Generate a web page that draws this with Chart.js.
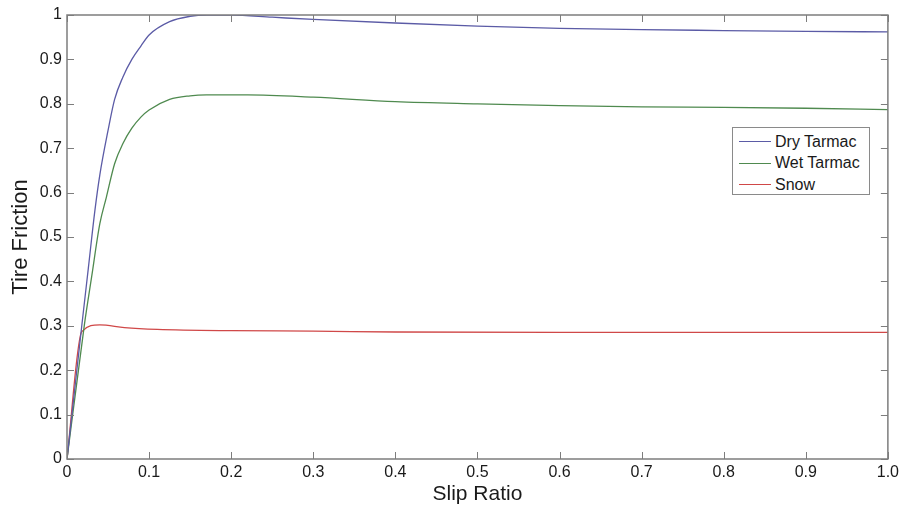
<!DOCTYPE html>
<html>
<head>
<meta charset="utf-8">
<script src="https://cdn.jsdelivr.net/npm/chart.js@4.4.1/dist/chart.umd.min.js"></script>
<style>
    html, body { margin: 0; padding: 0; background: #fff; }
    #wrap { position: relative; width: 903px; height: 507px; }
    #legend {
        position: absolute; left: 732px; top: 127px; width: 138px; height: 68px;
        border: 1px solid #8a8a8a; background: #fff;
        font-family: "Liberation Sans", Arial, sans-serif; font-size: 16px; color: #1a1a1a;
        box-sizing: border-box; padding-top: 3px;
    }
    #legend .row { display: flex; align-items: center; height: 21.5px; }
    #legend .swatch { width: 32px; height: 0; border-top: 1.5px solid; margin: 0 4px 0 6px; }
</style>
</head>
<body>
<div id="wrap">
    <canvas id="chart" width="903" height="507"></canvas>
    <div id="legend"></div>
</div>
<script>
// Значения
const drySlip = [0, 0.018, 0.026, 0.034, 0.04, 0.05, 0.058, 0.068, 0.079, 0.09, 0.1, 0.125, 0.15, 0.17, 0.2, 0.25, 0.3, 0.4, 0.5, 0.6, 0.7, 0.8, 0.9, 1.0];
const dryFriction = [0, 0.3, 0.43, 0.56, 0.64, 0.74, 0.81, 0.86, 0.9, 0.93, 0.955, 0.985, 0.997, 1.0, 1.0, 0.995, 0.99, 0.982, 0.975, 0.97, 0.967, 0.965, 0.963, 0.962];

const wetSlip = [0, 0.021, 0.03, 0.04, 0.048, 0.058, 0.068, 0.079, 0.09, 0.1, 0.125, 0.15, 0.17, 0.22, 0.3, 0.4, 0.5, 0.6, 0.7, 0.8, 0.9, 1.0];
const wetFriction = [0, 0.3, 0.41, 0.53, 0.59, 0.665, 0.71, 0.745, 0.77, 0.786, 0.81, 0.818, 0.82, 0.82, 0.815, 0.805, 0.8, 0.796, 0.793, 0.792, 0.79, 0.787];

const snowSlip = [0, 0.018, 0.04, 0.07, 0.11, 0.2, 0.3, 0.4, 0.6, 0.8, 1.0];
const snowFriction = [0, 0.287, 0.302, 0.296, 0.292, 0.289, 0.288, 0.286, 0.285, 0.285, 0.285];

const seriesNames = ['Dry Tarmac', 'Wet Tarmac', 'Snow'];
const seriesColors = ['#5b5ba6', '#4f8a4f', '#d04848'];

const xTicks = [0, 0.1, 0.2, 0.3, 0.4, 0.5, 0.6, 0.7, 0.8, 0.9, 1.0];
const yTicks = [0, 0.1, 0.2, 0.3, 0.4, 0.5, 0.6, 0.7, 0.8, 0.9, 1];

function toPoints(xs, ys) {
    return xs.map((x, i) => ({ x: x, y: ys[i] }));
}

const textColor = '#1a1a1a';
const fontFamily = '"Liberation Sans", Arial, sans-serif';

// Рамка и внутренние засечки как в MATLAB
const frame = {
    id: 'frame',
    afterDatasetsDraw(chart) {
        const { ctx, chartArea: a, scales: { x, y } } = chart;
        ctx.save();
        ctx.strokeStyle = '#7d7d7d';
        ctx.lineWidth = 1;
        ctx.beginPath();
        xTicks.forEach(v => {
            const px = Math.round(x.getPixelForValue(v)) + 0.5;
            ctx.moveTo(px, a.bottom); ctx.lineTo(px, a.bottom - 7);
            ctx.moveTo(px, a.top); ctx.lineTo(px, a.top + 7);
        });
        yTicks.forEach(v => {
            const py = Math.round(y.getPixelForValue(v)) + 0.5;
            ctx.moveTo(a.left, py); ctx.lineTo(a.left + 7, py);
            ctx.moveTo(a.right, py); ctx.lineTo(a.right - 7, py);
        });
        ctx.stroke();
        ctx.lineWidth = 1.5;
        ctx.strokeRect(a.left, a.top, a.right - a.left, a.bottom - a.top);
        ctx.restore();
    }
};

const ctx = document.getElementById('chart').getContext('2d');
const xs = [drySlip, wetSlip, snowSlip];
const ys = [dryFriction, wetFriction, snowFriction];

const chart = new Chart(ctx, {
    type: 'scatter',
    data: {
        datasets: seriesNames.map((name, i) => ({
            label: name,
            data: toPoints(xs[i], ys[i]),
            showLine: true,
            borderColor: seriesColors[i],
            backgroundColor: seriesColors[i],
            borderWidth: 1.3,
            pointRadius: 0,
            cubicInterpolationMode: 'monotone'
        }))
    },
    options: {
        responsive: false,
        animation: false,
        layout: { padding: { top: 15, right: 14, left: 0, bottom: 0 } },
        plugins: {
            legend: { display: false },
            tooltip: { enabled: false }
        },
        scales: {
            x: {
                type: 'linear',
                min: 0, max: 1,
                afterBuildTicks: s => { s.ticks = xTicks.map(v => ({ value: v })); },
                afterFit: s => { s.height = 48; },
                grid: { display: false, drawTicks: false },
                border: { display: false },
                ticks: {
                    padding: 4,
                    color: textColor,
                    font: { family: fontFamily, size: 16 },
                    maxRotation: 0,
                    callback: v => v === 0 ? '0' : v.toFixed(1)
                },
                title: {
                    display: true,
                    text: 'Slip Ratio',
                    color: textColor,
                    font: { family: fontFamily, size: 21 },
                    padding: { top: 0, bottom: 0 }
                }
            },
            y: {
                type: 'linear',
                min: 0, max: 1,
                afterBuildTicks: s => { s.ticks = yTicks.map(v => ({ value: v })); },
                afterFit: s => { s.width = 67; },
                grid: { display: false, drawTicks: false },
                border: { display: false },
                ticks: {
                    padding: 5,
                    color: textColor,
                    font: { family: fontFamily, size: 16 },
                    callback: v => (v === 0 || v === 1) ? String(v) : v.toFixed(1)
                },
                title: {
                    display: true,
                    text: 'Tire Friction',
                    color: textColor,
                    font: { family: fontFamily, size: 22 },
                    padding: { top: 8, bottom: 0 }
                }
            }
        }
    },
    plugins: [frame]
});

// Легенда внутри области графика
const legend = document.getElementById('legend');
chart.data.datasets.forEach(ds => {
    const row = document.createElement('div');
    row.className = 'row';
    const sw = document.createElement('span');
    sw.className = 'swatch';
    sw.style.borderColor = ds.borderColor;
    const label = document.createElement('span');
    label.textContent = ds.label;
    row.appendChild(sw);
    row.appendChild(label);
    legend.appendChild(row);
});
</script>
</body>
</html>
